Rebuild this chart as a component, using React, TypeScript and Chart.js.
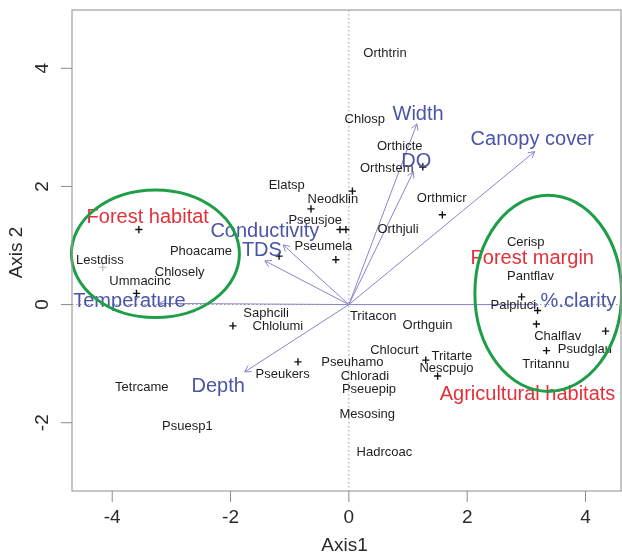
import { useEffect, useRef } from "react";
import { Chart, registerables } from "chart.js";

Chart.register(...registerables);

const xTicks = [-4, -2, 0, 2, 4];
const yTicks = [-2, 0, 2, 4];
const xRange = [-4.68, 4.6];
const yRange = [-3.156, 4.987];
const xTitle = "Axis1";
const yTitle = "Axis 2";

const markerX = [-3.55, -3.59, -4.16, -1.96, -0.86, -1.18, -0.64, 0.06, -0.15, -0.05, -0.22, 1.25, 1.58, 1.3, 1.5, 2.92, 3.19, 3.17, 4.34, 3.34];
const markerY = [1.27, 0.19, 0.63, -0.36, -0.97, 0.82, 1.62, 1.92, 1.27, 1.27, 0.76, 2.33, 1.52, -0.94, -1.21, 0.13, -0.1, -0.33, -0.45, -0.78];
const markerShade = ["k", "k", "g", "k", "k", "k", "k", "k", "k", "k", "k", "k", "k", "k", "k", "k", "k", "k", "k", "k"];

const speciesNames = [
  "Orthtrin", "Chlosp", "Orthicte", "Orthstem", "Elatsp", "Neodklin", "Orthmicr", "Pseusjoe", "Orthjuli",
  "Pseumela", "Phoacame", "Lestdiss", "Chlosely", "Ummacinc", "Saphcili", "Chlolumi", "Tritacon", "Orthguin",
  "Chlocurt", "Tritarte", "Nescpujo", "Pseuhamo", "Chloradi", "Pseuepip", "Mesosing", "Hadrcoac", "Pseukers",
  "Tetrcame", "Psuesp1", "Cerisp", "Pantflav", "Palpluci", "Chalflav", "Psudglau", "Tritannu",
];
const speciesX = [0.61, 0.27, 0.86, 0.64, -1.05, -0.27, 1.57, -0.57, 0.83, -0.43, -2.5, -4.21, -2.86, -3.53, -1.4, -1.2, 0.41, 1.33, 0.77, 1.74, 1.65, 0.06, 0.27, 0.34, 0.31, 0.6, -1.12, -3.5, -2.73, 2.99, 3.07, 2.78, 3.53, 3.99, 3.33];
const speciesY = [4.25, 3.13, 2.67, 2.31, 2.02, 1.78, 1.8, 1.42, 1.28, 0.98, 0.9, 0.75, 0.55, 0.4, -0.15, -0.37, -0.2, -0.36, -0.78, -0.88, -1.08, -0.98, -1.21, -1.43, -1.86, -2.51, -1.18, -1.4, -2.07, 1.05, 0.47, -0.02, -0.54, -0.76, -1.02];

const envNames = ["Width", "DO", "Canopy cover", "Conductivity", "TDS", "Temperature", "Depth", "%.clarity"];
const envTipX = [1.15, 1.09, 3.14, -1.11, -1.42, -3.2, -1.76, 3.2];
const envTipY = [3.06, 2.25, 2.59, 1.01, 0.74, 0.02, -1.14, 0.0];
const envLabelX = [1.17, 1.14, 3.1, -1.42, -1.47, -3.71, -2.21, 3.88];
const envLabelY = [3.21, 2.42, 2.79, 1.23, 0.92, 0.05, -1.39, 0.05];

const groupNames = ["Forest habitat", "Forest margin", "Agricultural habitats"];
const groupX = [-3.4, 3.1, 3.02];
const groupY = [1.48, 0.78, -1.53];

const ellipseCX = [-3.27, 3.37];
const ellipseCY = [0.86, 0.19];
const ellipseRX = [1.42, 1.24];
const ellipseRY = [1.08, 1.66];

const FONT = "'Liberation Sans', Arial, Helvetica, sans-serif";

const biplotPlugin = {
  id: "biplot",
  beforeDatasetsDraw(chart: any) {
    const { ctx, chartArea: a, scales } = chart;
    const xs = scales.x;
    const ys = scales.y;
    const x0 = xs.getPixelForValue(0);
    const y0 = ys.getPixelForValue(0);
    ctx.save();
    ctx.strokeStyle = "#9a9a9a";
    ctx.lineWidth = 1;
    ctx.setLineDash([1.5, 2.5]);
    ctx.beginPath();
    ctx.moveTo(x0, a.top);
    ctx.lineTo(x0, a.bottom);
    ctx.moveTo(a.left, y0);
    ctx.lineTo(a.right, y0);
    ctx.stroke();
    ctx.setLineDash([]);
    ctx.strokeStyle = "#8686cc";
    ctx.lineWidth = 1;
    for (let i = 0; i < envNames.length; i++) {
      const tx = xs.getPixelForValue(envTipX[i]);
      const ty = ys.getPixelForValue(envTipY[i]);
      ctx.beginPath();
      ctx.moveTo(x0, y0);
      ctx.lineTo(tx, ty);
      const ang = Math.atan2(ty - y0, tx - x0);
      const L = 7;
      ctx.moveTo(tx, ty);
      ctx.lineTo(tx - L * Math.cos(ang - Math.PI / 6), ty - L * Math.sin(ang - Math.PI / 6));
      ctx.moveTo(tx, ty);
      ctx.lineTo(tx - L * Math.cos(ang + Math.PI / 6), ty - L * Math.sin(ang + Math.PI / 6));
      ctx.stroke();
    }
    ctx.restore();
  },
  afterDatasetsDraw(chart: any) {
    const { ctx, chartArea: a, scales } = chart;
    const xs = scales.x;
    const ys = scales.y;
    ctx.save();
    ctx.textAlign = "center";
    ctx.textBaseline = "middle";
    ctx.fillStyle = "#1e1e1e";
    ctx.font = `13px ${FONT}`;
    for (let i = 0; i < speciesNames.length; i++) {
      ctx.fillText(speciesNames[i], xs.getPixelForValue(speciesX[i]), ys.getPixelForValue(speciesY[i]));
    }
    ctx.fillStyle = "#4a55a8";
    ctx.font = `20px ${FONT}`;
    for (let i = 0; i < envNames.length; i++) {
      ctx.fillText(envNames[i], xs.getPixelForValue(envLabelX[i]), ys.getPixelForValue(envLabelY[i]));
    }
    ctx.fillStyle = "#e3313b";
    for (let i = 0; i < groupNames.length; i++) {
      ctx.fillText(groupNames[i], xs.getPixelForValue(groupX[i]), ys.getPixelForValue(groupY[i]));
    }
    ctx.strokeStyle = "#1f9e48";
    ctx.lineWidth = 3;
    for (let i = 0; i < ellipseCX.length; i++) {
      const cx = xs.getPixelForValue(ellipseCX[i]);
      const cy = ys.getPixelForValue(ellipseCY[i]);
      const rx = Math.abs(xs.getPixelForValue(ellipseCX[i] + ellipseRX[i]) - cx);
      const ry = Math.abs(ys.getPixelForValue(ellipseCY[i] + ellipseRY[i]) - cy);
      ctx.beginPath();
      ctx.ellipse(cx, cy, rx, ry, 0, 0, Math.PI * 2);
      ctx.stroke();
    }
    // box
    ctx.strokeStyle = "#a0a0a0";
    ctx.lineWidth = 1.2;
    ctx.strokeRect(a.left, a.top, a.right - a.left, a.bottom - a.top);
    // ticks
    ctx.strokeStyle = "#8c8c8c";
    ctx.lineWidth = 1;
    ctx.beginPath();
    for (const t of xTicks) {
      const px = xs.getPixelForValue(t);
      ctx.moveTo(px, a.bottom);
      ctx.lineTo(px, a.bottom + 11);
    }
    for (const t of yTicks) {
      const py = ys.getPixelForValue(t);
      ctx.moveTo(a.left, py);
      ctx.lineTo(a.left - 11, py);
    }
    ctx.stroke();
    ctx.fillStyle = "#2a2a2a";
    ctx.font = `19px ${FONT}`;
    for (const t of xTicks) {
      ctx.fillText(String(t), xs.getPixelForValue(t), a.bottom + 27);
    }
    for (const t of yTicks) {
      ctx.save();
      ctx.translate(a.left - 29, ys.getPixelForValue(t));
      ctx.rotate(-Math.PI / 2);
      ctx.fillText(String(t), 0, 0);
      ctx.restore();
    }
    ctx.fillText(xTitle, (a.left + a.right) / 2 - 2, a.bottom + 55);
    ctx.save();
    ctx.translate(17, (a.top + a.bottom) / 2 + 2);
    ctx.rotate(-Math.PI / 2);
    ctx.fillText(yTitle, 0, 0);
    ctx.restore();
    ctx.restore();
  },
};

export default function App() {
  const ref = useRef<HTMLCanvasElement | null>(null);
  useEffect(() => {
    document.body.style.margin = "0";
    const canvas = ref.current;
    if (!canvas) return;
    const points = markerX.map((x, i) => ({ x, y: markerY[i] }));
    const chart = new Chart(canvas, {
      type: "scatter",
      data: {
        datasets: [
          {
            data: points,
            pointStyle: "cross",
            pointRadius: 3.6,
            borderWidth: 1.4,
            borderColor: markerShade.map((s) => (s === "g" ? "#c4c4c4" : "#111111")),
            backgroundColor: "transparent",
          },
        ],
      },
      options: {
        responsive: false,
        animation: false,
        devicePixelRatio: 1,
        layout: { autoPadding: false, padding: { left: 0, right: 1, top: 10, bottom: 0 } },
        plugins: { legend: { display: false }, tooltip: { enabled: false } },
        scales: {
          x: {
            type: "linear",
            min: xRange[0],
            max: xRange[1],
            grid: { display: false },
            border: { display: false },
            ticks: { display: false },
            afterFit: (s: any) => {
              s.height = 63;
            },
          },
          y: {
            type: "linear",
            min: yRange[0],
            max: yRange[1],
            grid: { display: false },
            border: { display: false },
            ticks: { display: false },
            afterFit: (s: any) => {
              s.width = 72;
            },
          },
        },
      },
      plugins: [biplotPlugin],
    });
    return () => chart.destroy();
  }, []);
  return (
    <div style={{ width: 622, height: 554, background: "#fff" }}>
      <canvas ref={ref} width={622} height={554} style={{ display: "block" }} />
    </div>
  );
}
